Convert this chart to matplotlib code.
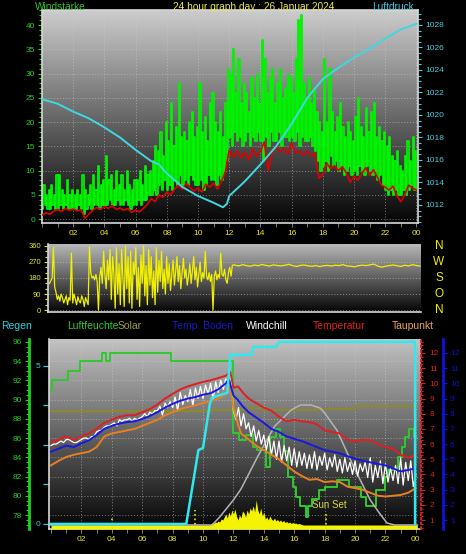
import numpy as np
import matplotlib
matplotlib.use("Agg")
import matplotlib.pyplot as plt
from matplotlib.ticker import MultipleLocator, FixedLocator, FormatStrFormatter

plt.rcParams['font.family'] = ['Liberation Sans', 'DejaVu Sans']

# ---------------- data ----------------
title = "24 hour graph day : 26 Januar 2024"
hour_ticks = [2, 4, 6, 8, 10, 12, 14, 16, 18, 20, 22, 24]
hour_labels = ["02", "04", "06", "08", "10", "12", "14", "16", "18", "20", "22", "00"]

# wind gusts (10-minute slots, low and high of each slot), km/h
gust_hi = [7, 5, 6, 7, 5, 9,   9, 6, 5, 8, 5, 6,   5, 6, 5, 9, 6, 5,   7, 9, 6, 11, 7, 8,
           13, 8, 9, 6, 10, 7,  9, 6, 10, 7, 6, 8,  8, 10, 7, 11, 9, 10, 12, 15, 14, 18, 13, 20,
           16, 24, 15, 19, 28, 17, 18, 16, 20, 22, 17, 19, 28, 18, 21, 16, 24, 26, 20, 18, 22, 17, 24, 31,
           30, 35, 26, 33, 24, 28, 26, 22, 29, 25, 30, 24, 37, 33, 26, 29, 31, 24, 28, 31, 25, 27, 30, 29,
           26, 33, 41, 42, 28, 25, 29, 24, 27, 22, 20, 18, 33, 20, 31, 22, 18, 21, 24, 19, 17, 20, 18, 16,
           21, 25, 19, 17, 23, 18, 22, 24, 17, 19, 16, 18, 15, 17, 13, 12, 14, 11, 10, 13, 16, 12, 17, 14]
gust_lo = [2, 3, 2, 2, 3, 2,   2, 3, 2, 3, 2, 2,   2, 2, 3, 2, 1, 2,   3, 2, 3, 3, 2, 3,
           3, 3, 4, 3, 3, 4,   3, 3, 4, 3, 2, 3,   3, 4, 3, 4, 4, 5,   5, 6, 5, 7, 6, 8,
           6, 7, 6, 8, 7, 9,   7, 8, 7, 9, 8, 7,   7, 8, 6, 7, 9, 8,   8, 7, 9, 8, 10, 12,
           17, 15, 18, 16, 17, 15, 16, 18, 15, 17, 16, 18, 16, 12, 17, 15, 18, 16, 16, 18, 15, 17, 17, 16,
           17, 16, 18, 15, 17, 16, 16, 17, 15, 14, 12, 10, 11, 12, 10, 13, 11, 12, 10, 11, 9, 10, 11, 9,
           10, 9, 11, 10, 9, 11, 10, 9, 10, 8, 9, 7,   6, 5, 6, 5, 6, 5,   5, 6, 5, 6, 7, 6]

# average wind (15-minute values), km/h
wind_avg = [0.8, 1.3, 1.0, 1.6, 2.0, 1.6, 2.2, 1.8, 2.1, 1.7, 1.9, 0.2, 1.0, 1.8, 2.4, 2.0,
            2.6, 2.2, 2.8, 2.0, 2.3, 1.8, 2.2, 1.4, 1.9, 1.5, 2.2, 3.0, 4.2, 3.6, 5.0, 4.5,
            5.6, 5.0, 6.2, 7.0, 6.2, 7.4, 6.5, 5.8, 6.4, 5.6, 7.2, 6.6, 7.4, 6.2, 7.8, 9.6,
            14.2, 12.8, 14.0, 12.6, 13.8, 12.2, 14.4, 13.0, 14.0, 15.9, 10.0, 13.6, 15.0, 13.8, 14.6, 13.4,
            15.6, 13.6, 14.0, 13.2, 14.0, 13.0, 13.6, 8.4, 9.2, 11.5, 10.4, 11.0, 10.0, 10.8, 9.6, 7.6,
            8.8, 8.0, 9.4, 10.6, 9.0, 10.2, 8.6, 7.0, 6.6, 6.0, 6.8, 4.8, 3.6, 5.0, 7.0, 6.4, 6.0]

# air pressure, hPa
press_t = [0, 1, 2, 3, 4, 5, 6, 7, 7.5, 8, 9, 10, 11, 11.6, 11.85, 12, 13, 14, 15, 16, 17, 18,
           19, 20, 21, 22, 23, 24]
press = [1021.4, 1021.0, 1020.3, 1019.7, 1018.9, 1018.0, 1016.9, 1015.9, 1015.6, 1014.8, 1013.6,
         1012.8, 1012.2, 1011.8, 1012.1, 1012.8, 1014.1, 1015.6, 1017.2, 1019.2, 1021.5, 1023.2,
         1024.2, 1025.1, 1025.9, 1026.8, 1027.6, 1028.1]

# wind direction: 5-minute values 0-12 h, 15-minute values 12-24 h
dir_am = [150, 165, 180, 350, 130, 100, 60, 80, 50, 90, 70, 40,
          60, 80, 30, 70, 55, 320, 40, 90, 60, 30, 75, 50,
          40, 80, 60, 20, 70, 50, 30, 355, 210, 180, 190, 170,
          200, 160, 0, 190, 240, 150, 330, 200, 120, 280, 170, 340,
          60, 300, 200, 10, 350, 90, 260, 30, 340, 180, 20, 360,
          120, 300, 40, 330, 10, 270, 200, 350, 60, 240, 20, 310,
          150, 360, 80, 250, 30, 340, 140, 300, 70, 220, 30, 350,
          100, 280, 160, 330, 120, 230, 90, 300, 150, 260, 110, 200,
          280, 140, 220, 300, 160, 250, 120, 210, 290, 180, 230, 140,
          190, 260, 150, 220, 300, 170, 240, 130, 200, 270, 160, 210,
          180, 330, 190, 170, 210, 160, 200, 0, 190, 220, 170, 200,
          180, 320, 200, 190, 230, 170, 150, 210, 240, 190, 250, 255]
dir_pm = [252, 248, 255, 250, 246, 253, 249, 256, 251, 247, 254, 250, 248, 252, 257, 249,
          245, 251, 253, 248, 246, 250, 244, 249, 251, 247, 252, 250, 255, 248, 246, 243,
          249, 252, 250, 254, 258, 247, 241, 246, 250, 253, 249, 245, 252, 248, 255, 250, 247]
compass = ["N", "W", "S", "O", "N"]
compass_deg = [360, 270, 180, 90, 0]

# bottom panel
legend_labels = ["Regen", "Luftfeuchte", "Solar", "Temp. Boden", "Windchill", "Temperatur", "Taupunkt"]

rain_t = [0, 8.9, 9.7, 10.0, 10.45, 10.6, 11.6, 11.8, 13.2, 13.3, 14.8, 15.0, 23.95, 23.95]
rain = [0, 0, 2.34, 2.4, 3.8, 4.0, 4.15, 5.35, 5.35, 5.6, 5.6, 5.76, 5.76, 0]

hum_t = [0, 0.1, 1.1, 1.9, 3.35, 3.6, 3.85, 7.9, 11.95, 12.4, 12.8, 13.3, 13.55, 14.15, 14.4,
         14.8, 15.05, 15.3, 15.6, 15.9, 16.1, 16.35, 16.75, 16.9, 17.2, 17.6, 18.0, 18.8, 19.6,
         20.4, 20.7, 21.4, 22.0, 22.2, 22.8, 23.1, 23.3, 23.55, 23.85, 24.0]
hum = [91.0, 92.0, 92.95, 94.0, 94.9, 94.0, 94.9, 94.0, 86.5, 85.8, 86.3, 85.1, 84.75, 83.0, 86.1,
       87.0, 86.1, 84.7, 82.0, 80.9, 79.9, 78.9, 77.8, 78.9, 79.7, 80.6, 80.9, 81.6, 80.9,
       79.9, 78.9, 80.6, 81.95, 82.65, 84.05, 85.1, 86.1, 87.0, 86.1, 86.1]

olive_t = [0, 10.5, 13.0, 14.0, 17.5, 20.0, 24.1]
olive = [88.8, 88.95, 89.1, 88.9, 89.0, 89.35, 89.35]

temp_t = [0, 0.5, 1, 1.5, 2, 2.5, 3, 3.5, 4, 4.5, 5, 5.5, 6, 6.5, 7, 7.5, 8, 8.5, 9, 9.5, 10, 10.5,
          11, 11.5, 11.8, 12.0, 12.3, 12.7, 13, 13.5, 14, 14.5, 15, 15.5, 16, 16.5, 17, 17.5, 18,
          18.5, 19, 19.5, 20, 20.5, 21, 21.5, 22, 22.5, 23, 23.5, 24]
temp = [6.1, 6.3, 6.5, 6.3, 6.5, 6.7, 7.0, 7.4, 7.6, 7.8, 7.9, 7.9, 8.1, 8.3, 8.6, 9.0, 9.3, 9.6,
        9.8, 9.95, 10.1, 10.2, 10.35, 10.5, 10.75, 9.7, 9.8, 9.3, 9.0, 8.7, 8.4, 8.2, 7.8, 7.5,
        7.6, 7.5, 7.45, 7.3, 6.9, 6.8, 6.7, 6.3, 6.15, 6.3, 6.25, 6.0, 5.8, 5.7, 5.3, 5.1, 5.3]

dew_t = [0, 0.5, 1, 1.5, 2, 2.5, 3, 3.5, 4, 4.5, 5, 5.5, 6, 6.5, 7, 7.5, 8, 8.5, 9, 9.5, 10, 10.5,
         11, 11.5, 11.8, 12.0, 12.3, 12.5, 13, 13.5, 14, 14.5, 15, 15.5, 16, 16.5, 17, 17.5, 18,
         18.5, 19, 19.5, 20, 20.5, 21, 21.5, 22, 22.5, 23, 23.5, 24]
dew = [4.6, 4.9, 5.15, 5.3, 5.4, 5.5, 5.8, 6.5, 6.7, 6.8, 6.9, 7.0, 7.2, 7.4, 7.6, 7.9, 8.1, 8.3,
       8.45, 8.55, 8.7, 8.85, 9.0, 9.3, 9.75, 8.4, 7.3, 6.7, 6.3, 5.9, 5.6, 5.3, 5.0, 4.6, 4.2,
       3.9, 3.65, 3.7, 3.5, 3.55, 3.5, 3.2, 3.1, 3.0, 2.8, 2.6, 2.55, 2.6, 2.65, 2.8, 3.1]

soil_t = [0, 0.5, 1, 1.5, 2, 2.5, 3, 3.5, 4, 4.5, 5, 5.5, 6, 6.5, 7, 7.5, 8, 8.5, 9, 9.5, 10, 10.5,
          11, 11.5, 11.7, 12.0, 12.3, 12.6, 13, 13.5, 14, 14.5, 15, 15.5, 16, 16.5, 17, 17.5, 18,
          18.5, 19, 19.5, 20, 20.5, 21, 21.5, 22, 22.5, 23, 23.5, 24]
soil = [5.5, 5.7, 5.9, 5.8, 6.05, 6.25, 6.6, 7.0, 7.2, 7.35, 7.45, 7.5, 7.65, 7.85, 8.1, 8.4, 8.65,
        8.85, 9.0, 9.1, 9.25, 9.35, 9.6, 10.0, 10.3, 9.2, 8.9, 8.5, 8.1, 7.75, 7.4, 7.0, 6.8, 6.5,
        6.35, 6.2, 6.0, 5.8, 5.6, 5.5, 5.4, 5.2, 5.05, 4.9, 4.8, 4.7, 4.6, 4.4, 4.2, 4.3, 4.4]

# windchill, 10-minute values
windchill = [5.9, 6.0, 6.0, 6.1, 6.2, 6.1,  6.3, 6.3, 6.2, 6.1, 6.1, 6.2,
             6.3, 6.4, 6.4, 6.3, 6.5, 6.5,  6.8, 6.9, 6.9, 7.1, 7.2, 7.2,
             7.3, 7.4, 7.2, 7.6, 7.5, 7.6,  7.6, 7.7, 7.5, 7.7, 7.6, 7.7,
             7.8, 8.0, 7.8, 8.1, 8.0, 8.2,  8.2, 8.5, 7.9, 8.7, 8.4, 8.8,
             8.4, 9.1, 8.2, 9.4, 8.6, 9.2,  8.8, 9.6, 8.5, 9.7, 9.0, 9.8,
             9.0, 9.9, 9.3, 10.0, 8.9, 10.1, 9.4, 10.2, 9.6, 10.3, 9.8, 10.6,
             8.2, 7.6, 8.4, 7.2, 8.0, 7.0,  7.4, 6.5, 7.2, 6.2, 6.9, 6.0,
             6.6, 5.6, 6.5, 5.3, 6.2, 5.0,  6.2, 4.8, 5.9, 4.9, 5.8, 4.6,
             5.7, 4.5, 5.5, 4.6, 5.4, 4.4,  5.3, 4.4, 5.5, 4.3, 5.2, 4.6,
             5.4, 4.3, 5.1, 4.5, 5.3, 4.2,  5.0, 4.1, 5.1, 4.2, 4.8, 4.0,
             4.9, 3.9, 4.7, 4.2, 4.8, 3.8,  5.1, 3.5, 4.6, 3.8, 4.9, 3.4,
             4.7, 3.5, 4.4, 3.6, 4.6, 3.4,  5.1, 3.3, 4.8, 3.6, 4.9, 3.2, 4.0]

# measured solar radiation 10.4 h - 16.6 h (6-minute values), W/m2
solar = [0, 2, 4, 3, 6, 5, 8, 6, 12, 10, 16, 22, 14, 26, 18, 30, 22, 32, 18, 10, 20, 14, 28, 24,
         16, 30, 22, 34, 28, 38, 26, 50, 30, 22, 34, 18, 26, 12, 16, 10, 18, 12, 9, 14, 8, 11, 7,
         10, 6, 9, 5, 7, 4, 6, 3, 5, 3, 4, 2, 3, 2, 1, 0]
solar_start = 10.4
# theoretical solar radiation
theo_t = [0, 10.6, 11.1, 12.0, 12.5, 13.6, 14.7, 15.8, 16.4, 17.1, 17.7, 18.0, 18.8, 19.9, 21.0,
          21.6, 22.1, 22.6, 24.1]
theo = [0, 0, 16, 50, 72, 137, 197, 230, 240, 240, 234, 224, 190, 117, 50, 24, 4, 0, 0]
sun_marks_t = [4.0, 9.5, 18.1]
sun_marks_h = [14, 30, 26]

# ---------------- figure ----------------
W, H = 466, 554
fig = plt.figure(figsize=(W / 100, H / 100), dpi=100, facecolor="black")


def box(l, t, r, b):
    return [l / W, 1 - b / H, (r - l) / W, (b - t) / H]


def P(x, y):
    return x / W, 1 - y / H


def gradient(ax, top, bot):
    g = np.linspace(top, bot, 256).reshape(-1, 1)
    ax.imshow(g, cmap="gray", vmin=0, vmax=1, extent=[0, 1, 0, 1], transform=ax.transAxes,
              aspect="auto", zorder=0, interpolation="bilinear")


def hide_spines(ax):
    for s in ax.spines.values():
        s.set_visible(False)


GRID = dict(color="#d0d0d0", linestyle=(0, (1, 2)), linewidth=0.7, alpha=0.55)
TICKFONT = 6
YEL = "#e8e820"

# ----- top panel: wind + pressure -----
ax1 = fig.add_axes(box(42, 10, 418, 223))
gradient(ax1, 0.80, 0.02)
tg, vg = [], []
for i in range(len(gust_hi)):
    tg += [i / 6, i / 6 + 1 / 12]
    vg += [gust_lo[i], gust_hi[i]]
tg.append(24)
vg.append(gust_lo[-1])
ax1.plot(tg, vg, drawstyle="steps-post", color="#00f400", lw=1.25, zorder=2)
wind_t = np.arange(len(wind_avg)) * 0.25
ax1.plot(wind_t, wind_avg, color="#e00000", lw=1.2, zorder=3)
ax1.set_xlim(0, 24.1)
ax1.set_ylim(-0.8, 43.1)
ax1.xaxis.set_major_locator(FixedLocator(hour_ticks))
ax1.set_xticklabels(hour_labels)
ax1.xaxis.set_minor_locator(MultipleLocator(1))
ax1.yaxis.set_major_locator(MultipleLocator(5))
ax1.yaxis.set_minor_locator(MultipleLocator(1))
ax1.tick_params(axis="x", which="both", colors="#909090", labelcolor=YEL, labelsize=TICKFONT,
                length=3, width=0.6, pad=2)
ax1.tick_params(axis="y", which="major", colors="#20d020", labelsize=TICKFONT, length=3, width=0.8, pad=2)
ax1.tick_params(axis="y", which="minor", colors="#20d020", length=2, width=0.8)
ax1.grid(which="major", **GRID)
for s in ["left", "bottom", "top"]:
    ax1.spines[s].set_color("#d8d8d8")
    ax1.spines[s].set_linewidth(1.2)
ax1.spines["right"].set_visible(False)

ax1p = ax1.twinx()
hide_spines(ax1p)
ax1p.spines["right"].set_visible(True)
ax1p.spines["right"].set_color("#d8d8d8")
ax1p.spines["right"].set_linewidth(1.2)
ax1p.plot(press_t, press, color="#40d8e0", lw=1.4, zorder=4)
ax1p.set_ylim(1010.4, 1029.33)
ax1p.yaxis.set_major_locator(MultipleLocator(2))
ax1p.yaxis.set_minor_locator(MultipleLocator(0.5))
ax1p.yaxis.set_major_formatter(FormatStrFormatter("%d"))
ax1p.tick_params(axis="y", which="major", colors="#40d0e0", labelsize=TICKFONT, length=3, width=0.8, pad=2)
ax1p.tick_params(axis="y", which="minor", colors="#40d0e0", length=2, width=0.8)

fig.text(*P(35, 7.2), "Windstärke", color="#30c030", fontsize=7.3, ha="left", va="center")
fig.text(*P(173, 7.2), title, color="#e8e840", fontsize=7.3, ha="left", va="center")
fig.text(*P(372, 7.2), "Luftdruck", color="#40c8e0", fontsize=7.3, ha="left", va="center")

# ----- middle panel: wind direction -----
ax2 = fig.add_axes(box(48, 244, 421, 312))
gradient(ax2, 0.72, 0.02)
t_am = np.arange(len(dir_am)) / 12
t_pm = 12 + np.arange(len(dir_pm)) / 4
ax2.plot(np.concatenate([t_am, t_pm]), dir_am + dir_pm, color="#f0f000", lw=0.9, zorder=2)
ax2.set_xlim(-0.1, 24.05)
ax2.set_ylim(-11, 371)
ax2.set_xticks([])
ax2.yaxis.set_major_locator(FixedLocator([0, 90, 180, 270, 360]))
ax2.yaxis.set_minor_locator(MultipleLocator(30))
ax2.tick_params(axis="y", which="major", colors=YEL, labelsize=5.5, length=3, width=0.8, pad=2)
ax2.tick_params(axis="y", which="minor", colors=YEL, length=2, width=0.8)
ax2.grid(axis="y", which="major", **GRID)
for s in ["left", "bottom"]:
    ax2.spines[s].set_color("#d8d8d8")
    ax2.spines[s].set_linewidth(1.2)
for s in ["right", "top"]:
    ax2.spines[s].set_visible(False)
for lbl, d in zip(compass, compass_deg):
    ax2.text(1.048, d, lbl, transform=ax2.get_yaxis_transform(), color="#f0f000",
             fontsize=8.5, ha="center", va="center")

# ----- bottom panel -----
legend_x = [1, 67, 118, 172, 246, 313, 392]
legend_colors = ["#20d8e0", "#30c830", "#a0a040", "#1818c8", "#ffffff", "#e02020", "#f0a050"]
for lbl, x, c in zip(legend_labels, legend_x, legend_colors):
    fig.text(*P(x, 326), lbl, color=c, fontsize=7.5, ha="left", va="center")

ax3 = fig.add_axes(box(49, 339, 421, 529))
gradient(ax3, 0.76, 0.02)
ax3.set_xlim(-0.13, 24.34)
ax3.set_ylim(-0.16, 5.85)
ax3.xaxis.set_major_locator(FixedLocator(hour_ticks))
ax3.set_xticklabels(hour_labels)
ax3.xaxis.set_minor_locator(MultipleLocator(1))
ax3.tick_params(axis="x", which="both", colors="#909090", labelcolor=YEL, labelsize=TICKFONT,
                length=3, width=0.6, pad=2)
ax3.yaxis.set_major_locator(FixedLocator([0, 5]))
ax3.yaxis.set_minor_locator(FixedLocator([1.25, 2.5, 3.75]))
ax3.tick_params(axis="y", which="both", colors="#30d0e0", labelsize=TICKFONT, length=4, width=0.9, pad=2)
ax3.grid(axis="x", which="major", **GRID)
for s in ["left", "bottom"]:
    ax3.spines[s].set_color("#d8d8d8")
    ax3.spines[s].set_linewidth(1.2)
for s in ["right", "top"]:
    ax3.spines[s].set_visible(False)

# humidity axis (left, outward)
axh = ax3.twinx()
hide_spines(axh)
axh.set_ylim(76.55, 96.31)
axh.yaxis.tick_left()
axh.spines["left"].set_visible(True)
axh.spines["left"].set_position(("outward", 14.4))
axh.spines["left"].set_color("#20d020")
axh.spines["left"].set_linewidth(2)
axh.yaxis.set_major_locator(MultipleLocator(2))
axh.yaxis.set_minor_locator(MultipleLocator(0.5))
axh.tick_params(axis="y", which="major", colors="#20d020", labelsize=TICKFONT, length=3, width=0.8, pad=2)
axh.tick_params(axis="y", which="minor", colors="#20d020", length=2, width=0.8)
axh.grid(axis="y", which="major", **GRID)
axh.plot(olive_t, olive, drawstyle="steps-post", color="#8c8c20", lw=1.3, zorder=2)
axh.plot(hum_t, hum, drawstyle="steps-post", color="#30c830", lw=1.4, zorder=3)

# solar axis (hidden)
axs = ax3.twinx()
hide_spines(axs)
axs.set_ylim(-8, 372)
axs.set_yticks([])
sol_t = [0] + [solar_start + 0.1 * i for i in range(len(solar))] + [24.1]
sol_v = [0] + solar + [0]
axs.fill_between(sol_t, sol_v, -8, color="#f4f400", lw=0, zorder=1)
axs.plot(theo_t, theo, color="#b4b4b4", lw=1.1, zorder=2)
axs.vlines(sun_marks_t, -8, sun_marks_h, colors="#e8e800", linestyles=":", lw=1.2, zorder=3)
axs.text(17.2, 40, "Sun Set", color="#d8d840", fontsize=7, ha="left", va="center")

# temperature axis (right, red)
axt = ax3.twinx()
hide_spines(axt)
axt.set_ylim(0.41, 12.92)
axt.spines["right"].set_visible(True)
axt.spines["right"].set_color("#e02020")
axt.spines["right"].set_linestyle(":")
axt.spines["right"].set_linewidth(1.3)
axt.yaxis.set_major_locator(MultipleLocator(1))
axt.yaxis.set_minor_locator(MultipleLocator(0.25))
axt.tick_params(axis="y", which="major", colors="#e02020", labelsize=TICKFONT, length=3, width=0.8, pad=3)
axt.tick_params(axis="y", which="minor", colors="#e02020", length=1.5, width=0.8)
wc_t = np.arange(len(windchill)) / 6
axt.plot(wc_t, windchill, color="#ffffff", lw=0.9, zorder=2)
axt.plot(dew_t, dew, color="#e88020", lw=1.4, zorder=3)
axt.plot(soil_t, soil, color="#1818e0", lw=1.4, zorder=4)
axt.plot(temp_t, temp, color="#e02020", lw=1.4, zorder=5)

# soil temperature axis (right, blue, outward)
axb = ax3.twinx()
hide_spines(axb)
axb.set_ylim(0.41, 12.92)
axb.spines["right"].set_visible(True)
axb.spines["right"].set_position(("outward", 15.8))
axb.spines["right"].set_color("#1010e0")
axb.spines["right"].set_linewidth(2)
axb.yaxis.set_major_locator(MultipleLocator(1))
axb.tick_params(axis="y", which="major", colors="#1010d0", labelsize=TICKFONT, length=3, width=0.8, pad=2)

# rain line on top
axr = ax3.twinx()
hide_spines(axr)
axr.set_ylim(-0.16, 5.85)
axr.set_yticks([])
axr.plot(rain_t, rain, color="#30e8f0", lw=1.8, zorder=5)

fig.savefig("out.png", dpi=100, facecolor="black")
